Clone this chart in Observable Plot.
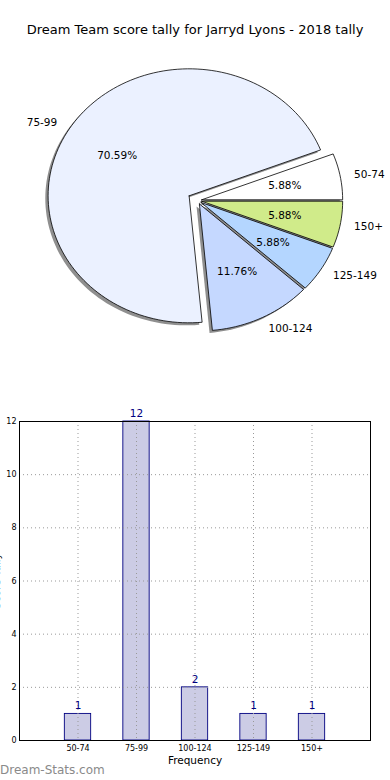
<!DOCTYPE html>
<html><head><meta charset="utf-8">
<script src="https://cdn.jsdelivr.net/npm/d3@7"></script>
<script src="https://cdn.jsdelivr.net/npm/@observablehq/plot@0.6"></script>
<style>
body{margin:0;background:#fff;font-family:"DejaVu Sans",sans-serif;}
#wrap{position:relative;width:390px;height:780px;overflow:hidden;background:#fff;}
#title{position:absolute;top:21px;left:0;width:390px;text-align:center;font-size:13px;line-height:18px;color:#000;}
#pie{position:absolute;top:0;left:0;}
#bar{position:absolute;top:400px;left:0;}
#wm{position:absolute;left:0;top:762px;font-size:12px;line-height:16px;color:#8a8a8a;font-weight:normal;}
</style></head>
<body>
<div id="wrap">
  <div id="pie"></div>
  <div id="bar"></div>
  <div id="title">Dream Team score tally for Jarryd Lyons - 2018 tally</div>
  <div id="wm">Dream-Stats.com</div>
</div>
<script>
// ---- data ----
const categories = ["50-74", "75-99", "100-124", "125-149", "150+"];
const counts = [1, 12, 2, 1, 1];
const sliceColors = ["#ffffff", "#ebf1ff", "#c5d8ff", "#b4d6ff", "#d0eb8a"];
const explode = [0.03, 0.07, 0.03, 0.03, 0.03];
const yTicks = [0, 2, 4, 6, 8, 10, 12];
const xLabel = "Frequency";
const yLabel = "Score Tally";

const font = "DejaVu Sans, sans-serif";

// ---- pie geometry (unit data coordinates, matplotlib-style) ----
const total = d3.sum(counts);
let start = 0;
const slices = categories.map((cat, i) => {
  const t1 = start, t2 = start + 360 * counts[i] / total;
  start = t2;
  const tm = (t1 + t2) / 2 * Math.PI / 180;
  const ox = explode[i] * Math.cos(tm), oy = explode[i] * Math.sin(tm);
  const n = Math.max(4, Math.ceil((t2 - t1) / 2));
  const pts = [{x: ox, y: oy}];
  for (let k = 0; k <= n; k++) {
    const a = (t1 + (t2 - t1) * k / n) * Math.PI / 180;
    pts.push({x: ox + Math.cos(a), y: oy + Math.sin(a)});
  }
  pts.push({x: ox, y: oy});
  return {cat, i, pts, tm, ox, oy, color: sliceColors[i],
    lx: ox + 1.1 * Math.cos(tm), ly: oy + 1.1 * Math.sin(tm),
    px: ox + 0.6 * Math.cos(tm), py: oy + 0.6 * Math.sin(tm),
    pct: (100 * counts[i] / total).toFixed(2) + "%"};
});

const pieMarks = [];
for (const s of slices) {
  pieMarks.push(Plot.line(s.pts, {x: d => d.x - 0.02, y: d => d.y - 0.02, curve: "linear",
    fill: "#333", fillOpacity: 0.55, stroke: "none"}));
}
for (const s of slices) {
  pieMarks.push(Plot.line(s.pts, {x: "x", y: "y", curve: "linear",
    fill: s.color, stroke: "#000", strokeWidth: 0.8, strokeLinejoin: "miter"}));
}
pieMarks.push(Plot.text(slices.filter(s => s.lx > 0), {x: "lx", y: "ly", text: "cat", textAnchor: "start", fontSize: 10.5, fill: "#000"}));
pieMarks.push(Plot.text(slices.filter(s => s.lx <= 0), {x: "lx", y: "ly", text: "cat", textAnchor: "end", fontSize: 10.5, fill: "#000"}));
pieMarks.push(Plot.text(slices, {x: "px", y: "py", text: "pct", textAnchor: "middle", fontSize: 10.5, fill: "#000"}));

const pie = Plot.plot({
  width: 390, height: 345, margin: 0,
  style: {fontFamily: font, background: "transparent", overflow: "visible"},
  x: {domain: [-1, 1], range: [56, 338], axis: null},
  y: {domain: [-1, 1], range: [327, 73], axis: null},
  marks: pieMarks
});
document.getElementById("pie").append(pie);

// ---- bar chart ----
const barData = categories.map((c, i) => ({i, cat: c, count: counts[i]}));
const idx = categories.map((c, i) => i);

const bar = Plot.plot({
  width: 390, height: 380,
  marginLeft: 19, marginRight: 20, marginTop: 21, marginBottom: 40,
  style: {fontFamily: font, background: "transparent", overflow: "visible"},
  x: {type: "linear", domain: [-1, 5]},
  y: {domain: [0, 12]},
  marks: [
    Plot.rectY(barData, {x1: d => d.i - 0.225, x2: d => d.i + 0.225, y1: 0, y2: "count",
      fill: "#ccccE5", stroke: "#000080", strokeWidth: 0.9}),
    Plot.gridY(yTicks, {stroke: "#999", strokeOpacity: 1, strokeDasharray: "1,3"}),
    Plot.gridX(idx, {stroke: "#999", strokeOpacity: 1, strokeDasharray: "1,3"}),
    Plot.frame({stroke: "#000", strokeWidth: 1}),
    Plot.axisY(yTicks, {tickSize: 0, tickPadding: 3, fontSize: 8, label: null, fill: "#000"}),
    Plot.axisX(idx, {tickSize: 0, tickPadding: 5, fontSize: 8, label: null, tickFormat: i => categories[i], fill: "#000"}),
    Plot.text(barData, {x: "i", y: "count", text: d => String(d.count), dy: -8, fill: "#000080", fontSize: 10.5}),
    Plot.text([xLabel], {frameAnchor: "bottom", lineAnchor: "middle", textAnchor: "middle", dy: 20, fontSize: 10.5, fill: "#000"}),
    Plot.text([yLabel], {frameAnchor: "left", lineAnchor: "middle", textAnchor: "middle", rotate: -90, dx: -23, fontSize: 10.5, fill: "#000"})
  ]
});
document.getElementById("bar").append(bar);
</script>
</body></html>
